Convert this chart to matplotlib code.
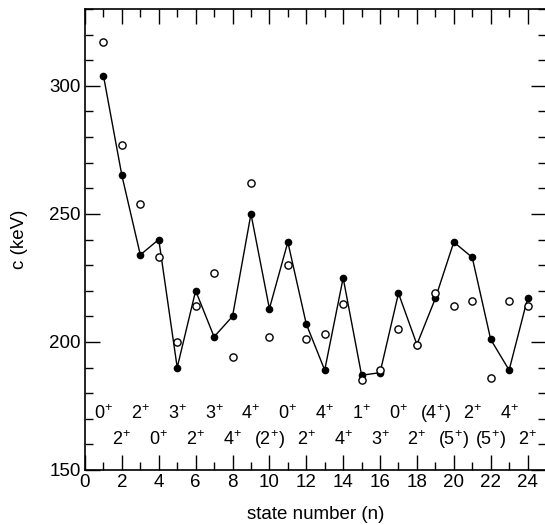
import matplotlib
matplotlib.use("Agg")
import matplotlib.pyplot as plt
from matplotlib.ticker import MultipleLocator

plt.rcParams['font.family'] = ['Liberation Sans', 'DejaVu Sans']
plt.rcParams['mathtext.fontset'] = 'custom'
plt.rcParams['mathtext.rm'] = 'Liberation Sans'
plt.rcParams['mathtext.it'] = 'Liberation Sans'

# state numbers and the two sets of c values (keV)
n = list(range(1, 25))
c_filled = [304, 265, 234, 240, 190, 220, 202, 210, 250, 213, 239, 207,
            189, 225, 187, 188, 219, 199, 217, 239, 233, 201, 189, 217]
c_open = [317, 277, 254, 233, 200, 214, 227, 194, 262, 202, 230, 201,
          203, 215, 185, 189, 205, 199, 219, 214, 216, 186, 216, 214]

# spin labels, upper row on odd states, lower row on even states
spins_odd = ['0', '2', '3', '3', '4', '0', '4', '1', '0', '(4', '2', '4']
spins_even = ['2', '0', '2', '4', '(2', '2', '4', '3', '2', '(5', '(5', '2']


def spin_text(s):
    if s.startswith('('):
        return s + '$^{+}$)'
    return s + '$^{+}$'


fig = plt.figure(figsize=(5.45, 5.25), dpi=100)
ax = fig.add_axes([85 / 545, 55 / 525, 461 / 545, 461 / 525])

ax.plot(n, c_filled, '-o', color='black', lw=1.0, ms=4.5, zorder=3)
ax.plot(n, c_open, 'o', mfc='white', mec='black', mew=1.0, ms=5.2,
        ls='none', zorder=4)

for k, s in enumerate(spins_odd):
    ax.text(n[2 * k], 172, spin_text(s), ha='center', va='center',
            fontsize=13)
for k, s in enumerate(spins_even):
    ax.text(n[2 * k + 1], 162, spin_text(s), ha='center', va='center',
            fontsize=13)

ax.set_xlim(0, 25)
ax.set_ylim(150, 330)
ax.xaxis.set_major_locator(MultipleLocator(2))
ax.xaxis.set_minor_locator(MultipleLocator(1))
ax.yaxis.set_major_locator(MultipleLocator(50))
ax.yaxis.set_minor_locator(MultipleLocator(10))
ax.set_xticks(range(0, 25, 2))
ax.tick_params(which='both', direction='in', top=True, right=True,
               labelsize=13.5, width=1.0, pad=3)
ax.tick_params(which='major', length=11)
ax.tick_params(which='minor', length=5.5)
for sp in ax.spines.values():
    sp.set_linewidth(1.2)

ax.set_xlabel('state number (n)', fontsize=13.5, labelpad=11)
ax.set_ylabel('c (keV)', fontsize=13.5, labelpad=15)

fig.savefig('out.png', dpi=100)
